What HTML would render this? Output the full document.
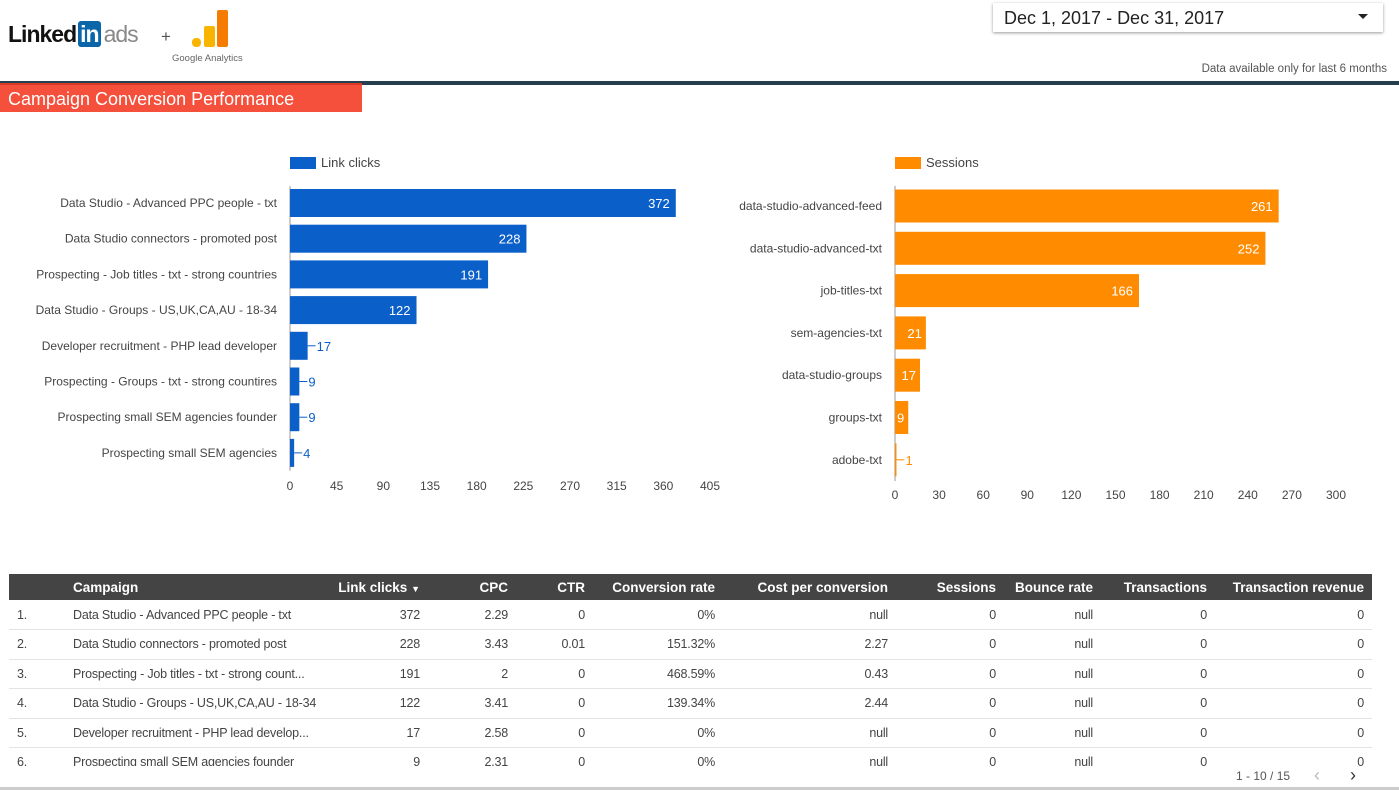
<!DOCTYPE html>
<html><head><meta charset="utf-8">
<style>
body{margin:0;width:1399px;height:790px;overflow:hidden;background:#fff;font-family:"Liberation Sans",sans-serif;position:relative}
.abs{position:absolute}
table{border-collapse:collapse;font-size:12.5px;color:#444;table-layout:fixed}
td,th{height:29.5px;padding:0 8px;white-space:nowrap;overflow:hidden;box-sizing:border-box}
td{letter-spacing:-0.2px}
th{background:#444;color:#fff;font-weight:bold;font-size:13.5px;height:26px}
td{border-bottom:1px solid #e4e4e4}
.r{text-align:right}
</style></head><body>
<div class="abs" style="left:8px;top:21px;font-weight:bold;font-size:23px;letter-spacing:-1px;color:#111">Linked<span style="background:#0a66a8;color:#fff;border-radius:3px;padding:0 2px;margin-left:2px">in</span><span style="color:#888;font-weight:normal;margin-left:3px">ads</span></div>
<div class="abs" style="left:161px;top:27px;font-size:17px;color:#555">+</div>
<svg class="abs" style="left:190px;top:9px" width="40" height="40"><rect x="2" y="29" width="9" height="9" rx="4" fill="#f9b400"/><rect x="14" y="17" width="11" height="21" rx="2" fill="#f9b400"/><rect x="27" y="1" width="11" height="37" rx="2" fill="#f57c00"/></svg>
<div class="abs" style="left:172px;top:53px;font-size:9.5px;color:#666">Google Analytics</div>
<div class="abs" style="left:993px;top:3px;width:390px;height:29px;box-shadow:0 1px 3px rgba(0,0,0,.4);background:#fff"><span style="position:absolute;left:11px;top:5px;font-size:18px;color:#222">Dec 1, 2017 - Dec 31, 2017</span><span style="position:absolute;right:15px;top:11px;width:0;height:0;border-left:5px solid transparent;border-right:5px solid transparent;border-top:5px solid #222"></span></div>
<div class="abs" style="right:12px;top:63px;font-size:11.5px;color:#555">Data available only for last 6 months</div>
<div class="abs" style="left:0;top:81px;width:1399px;height:4px;background:#263f4f"></div>
<div class="abs" style="left:0;top:83px;width:362px;height:29px;background:#f4503c;border-top:2px solid #d83a26;box-sizing:border-box;color:#fff;font-size:18px;padding:4px 0 0 8px">Campaign Conversion Performance</div>
<svg id="c1" class="abs" style="left:0;top:140px" width="760" height="370"></svg>
<svg id="c2" class="abs" style="left:700px;top:140px" width="699" height="380"></svg>
<table class="abs" style="left:9px;top:574px;width:1363px">
<colgroup><col style="width:56px"><col style="width:255px"><col style="width:108px"><col style="width:88px"><col style="width:77px"><col style="width:130px"><col style="width:173px"><col style="width:108px"><col style="width:97px"><col style="width:114px"><col style="width:157px"></colgroup>
<tr><th></th><th style="text-align:left">Campaign</th><th class="r">Link clicks <span style="font-size:9px">▼</span></th><th class="r">CPC</th><th class="r">CTR</th><th class="r">Conversion rate</th><th class="r">Cost per conversion</th><th class="r">Sessions</th><th class="r">Bounce rate</th><th class="r">Transactions</th><th class="r">Transaction revenue</th></tr>
<tbody id="tb"></tbody></table>
<div class="abs" style="left:0;top:766px;width:1399px;height:24px;background:#fff"></div>
<div class="abs" style="left:0;top:787px;width:1399px;height:3px;background:#ccc"></div>
<div class="abs" style="left:1236px;top:769px;font-size:12px;color:#555">1 - 10 / 15</div>
<div class="abs" style="left:1314px;top:765px;font-size:18px;color:#bbb">&#8249;</div>
<div class="abs" style="left:1350px;top:765px;font-size:18px;color:#333">&#8250;</div>
<script>
const cats1=["Data Studio - Advanced PPC people - txt","Data Studio connectors - promoted post","Prospecting - Job titles - txt - strong countries","Data Studio - Groups - US,UK,CA,AU - 18-34","Developer recruitment - PHP lead developer","Prospecting - Groups - txt - strong countires","Prospecting small SEM agencies founder","Prospecting small SEM agencies"];
const vals1=[372,228,191,122,17,9,9,4];
const ticks1=[0,45,90,135,180,225,270,315,360,405];
const cats2=["data-studio-advanced-feed","data-studio-advanced-txt","job-titles-txt","sem-agencies-txt","data-studio-groups","groups-txt","adobe-txt"];
const vals2=[261,252,166,21,17,9,1];
const ticks2=[0,30,60,90,120,150,180,210,240,270,300];
const rows=[["Data Studio - Advanced PPC people - txt",372,"2.29","0","0%","null"],["Data Studio connectors - promoted post",228,"3.43","0.01","151.32%","2.27"],["Prospecting - Job titles - txt - strong count...",191,"2","0","468.59%","0.43"],["Data Studio - Groups - US,UK,CA,AU - 18-34",122,"3.41","0","139.34%","2.44"],["Developer recruitment - PHP lead develop...",17,"2.58","0","0%","null"],["Prospecting small SEM agencies founder",9,"2.31","0","0%","null"]];
const NS="http://www.w3.org/2000/svg";
function mk(p,t,a,txt){const e=document.createElementNS(NS,t);for(const k in a)e.setAttribute(k,a[k]);if(txt!==undefined)e.textContent=txt;p.appendChild(e);return e;}
function chart(svg,cats,vals,ticks,o){
 const x=v=>o.x0+v*(o.x1-o.x0)/ticks[ticks.length-1];
 const y=i=>o.y0+i*o.step;
 const lg=mk(svg,'rect',{x:o.x0,y:17,width:26,height:12,fill:o.color});
 
 const lt=mk(svg,'text',{x:o.x0+31,y:27,'font-size':13,fill:'#444'},o.legend);
 
 mk(svg,'line',{x1:o.x0,x2:o.x0,y1:o.y0-o.step/2+1,y2:y(cats.length-1)+o.step/2,stroke:'#999'});
 ticks.forEach(t=>{const e=mk(svg,'text',{x:x(t),y:o.ty,'font-size':12,fill:'#444','text-anchor':'middle'},t);});
 cats.forEach((c,i)=>{
  const cy=y(i),w=x(vals[i])-o.x0;
  const l=mk(svg,'text',{x:o.x0-13,y:cy+4,'font-size':12,fill:'#444','text-anchor':'end'},c);
  
  const b=mk(svg,'rect',{x:o.x0,y:cy-o.bh/2,width:Math.max(w,1),height:o.bh,fill:o.color});
  
  let t;
  if(w>o.inside){t=mk(svg,'text',{x:x(vals[i])-(w>40?6:4),y:cy+5,'font-size':13,fill:'#fff','text-anchor':'end'},vals[i]);}
  else{mk(svg,'line',{x1:x(vals[i]),x2:x(vals[i])+8,y1:cy,y2:cy,stroke:o.color});
   t=mk(svg,'text',{x:x(vals[i])+9,y:cy+5,'font-size':13,fill:o.color},vals[i]);}
  
 });
}
chart(document.getElementById('c1'),cats1,vals1,ticks1,{x0:290,x1:710,y0:63,step:35.7,bh:28,ty:350,color:'#0b5fc9',legend:'Link clicks',inside:40});
chart(document.getElementById('c2'),cats2,vals2,ticks2,{x0:195,x1:636,y0:66,step:42.3,bh:33,ty:359,color:'#ff8c00',legend:'Sessions',inside:10});
const tb=document.getElementById('tb');
rows.forEach((r,i)=>{const tr=document.createElement('tr');


tr.innerHTML=`<td>${i+1}.</td><td>${r[0]}</td><td class="r">${r[1]}</td><td class="r">${r[2]}</td><td class="r">${r[3]}</td><td class="r">${r[4]}</td><td class="r">${r[5]}</td><td class="r">0</td><td class="r">null</td><td class="r">0</td><td class="r">0</td>`;tb.appendChild(tr);});
</script>
</body></html>
